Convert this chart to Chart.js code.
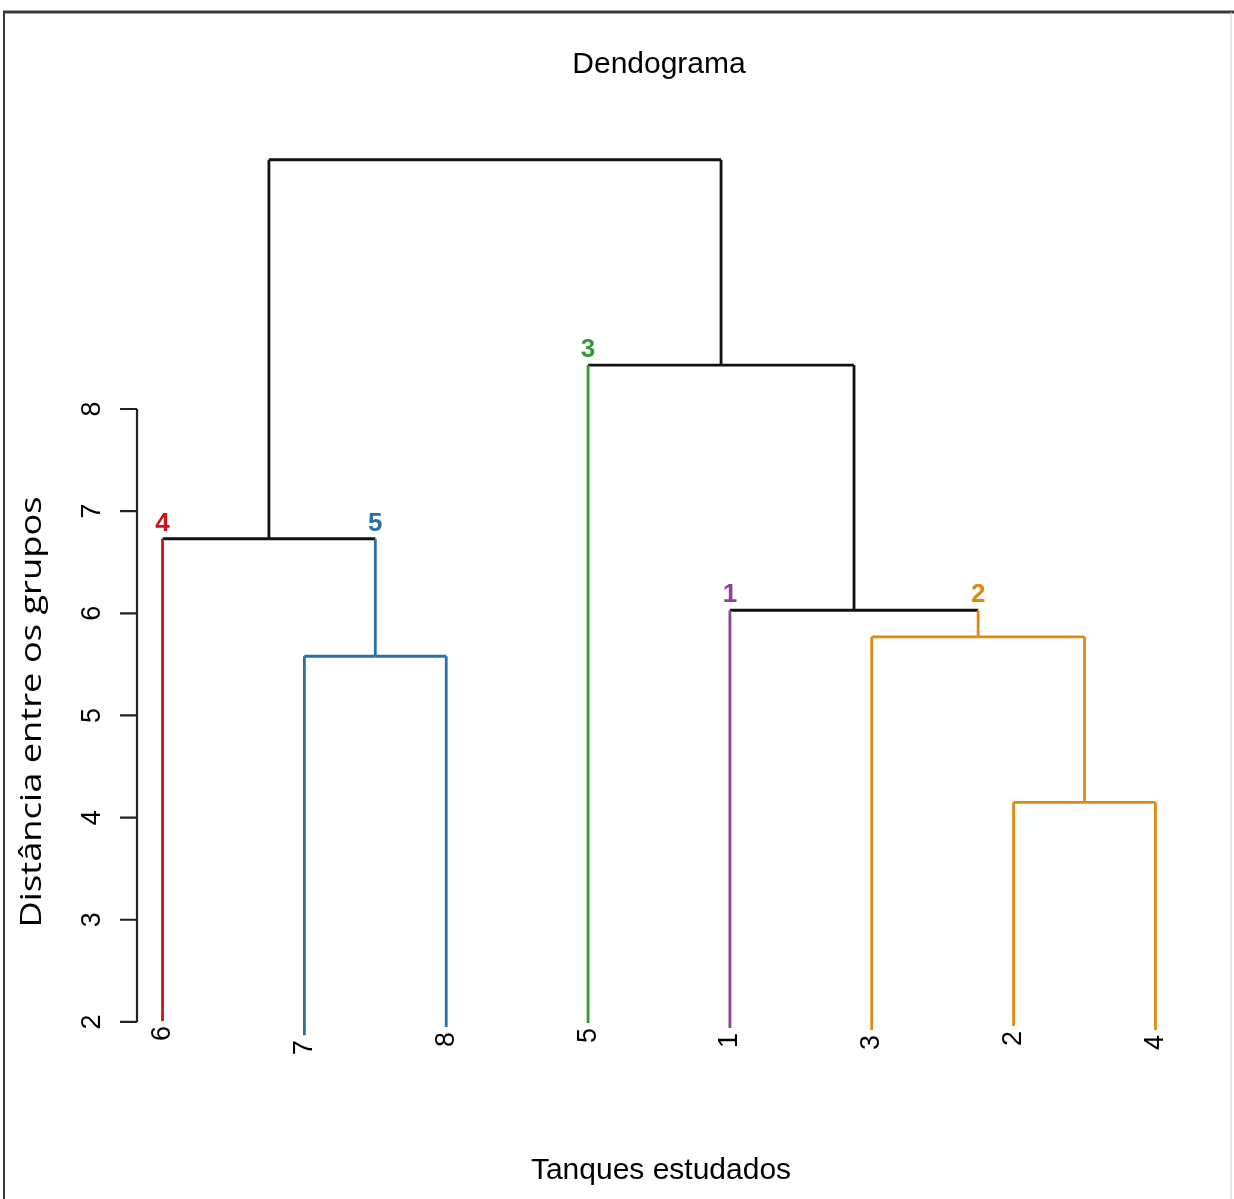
<!DOCTYPE html>
<html>
<head>
<meta charset="utf-8">
<title>Dendograma</title>
<script src="https://cdn.jsdelivr.net/npm/chart.js@4.4.1/dist/chart.umd.min.js"></script>
<style>
  html, body { margin: 0; padding: 0; background: #fff; }
  #chart { display: block; }
</style>
</head>
<body>
<canvas id="chart" width="1234" height="1199"></canvas>
<script>
// Tanks in the order they sit along the x axis
const leafOrder = [6, 7, 8, 5, 1, 3, 2, 4];
// Height where each leaf line stops at the bottom (by tank 1..8)
const leafBottoms = [1.94, 1.96, 1.92, 1.92, 1.99, 2.01, 1.87, 1.95];
// Merges, hclust style: negative = tank, positive = earlier merge
const mergeLeft = [-2, -7, -3, -1, -6, -5, 5];
const mergeRight = [-4, -8, 1, 3, 2, 4, 6];
const mergeHeights = [4.15, 5.58, 5.77, 6.03, 6.73, 8.43, 10.44];
// Group of each tank (cut in 5 groups)
const clusterOfTank = [1, 2, 2, 2, 3, 4, 5, 5];
const clusterColors = ['#8a4396', '#e0890f', '#389838', '#c8161a', '#2a6fa8'];
const yTicks = [2, 3, 4, 5, 6, 7, 8];

function colorOf(cluster) {
    return cluster === 0 ? '#111111' : clusterColors[cluster - 1];
}

// Build the tree nodes from the merges
const merged = [];
function nodeInfo(ref) {
    if (ref < 0) {
        const tank = -ref;
        return {
            x: leafOrder.indexOf(tank) + 1,
            y: leafBottoms[tank - 1],
            cluster: clusterOfTank[tank - 1]
        };
    }
    return merged[ref - 1];
}

const datasets = [];
const groupLabels = [];

function addSegment(p1, p2, color) {
    datasets.push({
        data: [p1, p2],
        showLine: true,
        borderColor: color,
        borderWidth: 2.8,
        pointRadius: 0,
        fill: false
    });
}

mergeHeights.forEach((h, i) => {
    const left = nodeInfo(mergeLeft[i]);
    const right = nodeInfo(mergeRight[i]);
    const node = {
        x: (left.x + right.x) / 2,
        y: h,
        cluster: left.cluster === right.cluster ? left.cluster : 0
    };
    [left, right].forEach(child => {
        addSegment({ x: child.x, y: child.y }, { x: child.x, y: h }, colorOf(child.cluster));
        addSegment({ x: child.x, y: h }, { x: node.x, y: h }, colorOf(node.cluster));
        // group number on top of each coloured branch
        if (node.cluster === 0 && child.cluster !== 0) {
            groupLabels.push({ x: child.x, y: h, text: String(child.cluster), color: colorOf(child.cluster) });
        }
    });
    merged.push(node);
});

// Draws the R style axis, labels, titles and frame
const rPlot = {
    id: 'rPlot',
    afterDraw(chart) {
        const ctx = chart.ctx;
        const area = chart.chartArea;
        const xs = chart.scales.x;
        const ys = chart.scales.y;
        ctx.save();

        // frame around the figure
        ctx.strokeStyle = '#3a3a3a';
        ctx.lineWidth = 3;
        ctx.beginPath();
        ctx.moveTo(3, 12);
        ctx.lineTo(1234, 12);
        ctx.stroke();
        ctx.lineWidth = 2;
        ctx.beginPath();
        ctx.moveTo(4, 12);
        ctx.lineTo(4, 1199);
        ctx.stroke();
        ctx.strokeStyle = '#cccccc';
        ctx.lineWidth = 1;
        ctx.beginPath();
        ctx.moveTo(1231, 12);
        ctx.lineTo(1231, 1199);
        ctx.stroke();

        // y axis
        const ax = area.left;
        ctx.strokeStyle = '#222';
        ctx.lineWidth = 2.2;
        ctx.beginPath();
        ctx.moveTo(ax, ys.getPixelForValue(yTicks[0]));
        ctx.lineTo(ax, ys.getPixelForValue(yTicks[yTicks.length - 1]));
        yTicks.forEach(t => {
            const py = ys.getPixelForValue(t);
            ctx.moveTo(ax - 17, py);
            ctx.lineTo(ax, py);
        });
        ctx.stroke();

        ctx.fillStyle = '#000';
        ctx.font = '27px "Liberation Sans", Arial, sans-serif';
        ctx.textAlign = 'center';
        ctx.textBaseline = 'middle';
        yTicks.forEach(t => {
            ctx.save();
            ctx.translate(ax - 44, ys.getPixelForValue(t));
            ctx.rotate(-Math.PI / 2);
            ctx.fillText(String(t), 0, 0);
            ctx.restore();
        });

        // tank labels under the leaves
        ctx.textAlign = 'right';
        leafOrder.forEach((tank, i) => {
            ctx.save();
            ctx.translate(xs.getPixelForValue(i + 1), ys.getPixelForValue(leafBottoms[tank - 1]) + 5);
            ctx.rotate(-Math.PI / 2);
            ctx.fillText(String(tank), 0, 0);
            ctx.restore();
        });

        // group numbers
        ctx.font = 'bold 26px "Liberation Sans", Arial, sans-serif';
        ctx.textAlign = 'center';
        ctx.textBaseline = 'alphabetic';
        groupLabels.forEach(g => {
            ctx.fillStyle = g.color;
            ctx.fillText(g.text, xs.getPixelForValue(g.x), ys.getPixelForValue(g.y) - 8);
        });

        // titles
        ctx.fillStyle = '#000';
        ctx.font = '30px "Liberation Sans", Arial, sans-serif';
        ctx.textBaseline = 'middle';
        ctx.fillText('Dendograma', 659, 65);
        ctx.fillText('Tanques estudados', 661, 1171);

        // y axis title, stretched to the length it has in the figure
        ctx.font = '29px "Open Sans", sans-serif';
        const label = 'Distância entre os grupos';
        const w = ctx.measureText(label).width;
        ctx.translate(33, 712);
        ctx.rotate(-Math.PI / 2);
        ctx.scale(431 / w, 1);
        ctx.fillText(label, 0, 0);

        ctx.restore();
    }
};

const ctx = document.getElementById('chart').getContext('2d');
const chart = new Chart(ctx, {
    type: 'scatter',
    data: { datasets: datasets },
    options: {
        responsive: false,
        animation: false,
        events: [],
        layout: {
            padding: { left: 137, right: 36, top: 123, bottom: 126 }
        },
        scales: {
            x: { type: 'linear', min: 0.82, max: 8.3, display: false },
            y: { type: 'linear', min: 1.5, max: 10.8, display: false }
        },
        plugins: {
            legend: { display: false },
            tooltip: { enabled: false }
        }
    },
    plugins: [rPlot]
});
</script>
</body>
</html>
